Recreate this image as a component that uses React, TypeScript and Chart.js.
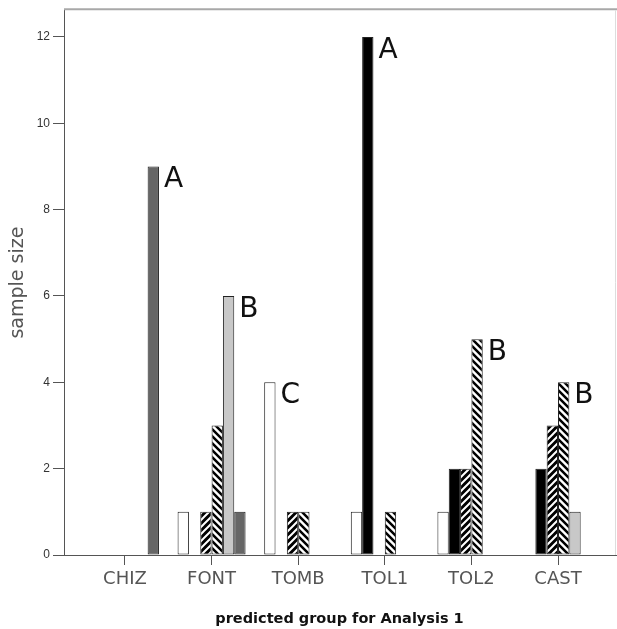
import React, { useEffect, useRef } from 'react';
import { Chart, registerables } from 'chart.js';

Chart.register(...registerables);

const categories = ['CHIZ', 'FONT', 'TOMB', 'TOL1', 'TOL2', 'CAST'];
const seriesWhite = [0, 1, 4, 1, 1, 0];
const seriesBlack = [0, 0, 0, 12, 2, 2];
const seriesForward = [0, 1, 1, 0, 2, 3];
const seriesBack = [0, 3, 1, 1, 5, 4];
const seriesLight = [0, 6, 0, 0, 0, 1];
const seriesDark = [9, 1, 0, 0, 0, 0];
const yTicks = [0, 2, 4, 6, 8, 10, 12];
const groupLetters = ['A', 'B', 'C', 'A', 'B', 'B'];
const letterSeries = [5, 4, 0, 1, 3, 3];

function makeStripes(dir: 'f' | 'b', bg: string, fg: string, lw: number) {
  const s = 7;
  const c = document.createElement('canvas');
  c.width = s;
  c.height = s;
  const g = c.getContext('2d')!;
  g.fillStyle = bg;
  g.fillRect(0, 0, s, s);
  g.strokeStyle = fg;
  g.lineWidth = lw;
  g.beginPath();
  if (dir === 'f') {
    g.moveTo(0, s); g.lineTo(s, 0);
    g.moveTo(-s / 2, s / 2); g.lineTo(s / 2, -s / 2);
    g.moveTo(s / 2, s * 1.5); g.lineTo(s * 1.5, s / 2);
  } else {
    g.moveTo(0, 0); g.lineTo(s, s);
    g.moveTo(-s / 2, s / 2); g.lineTo(s / 2, s * 1.5);
    g.moveTo(s / 2, -s / 2); g.lineTo(s * 1.5, s / 2);
  }
  g.stroke();
  return g.createPattern(c, 'repeat')!;
}

const toPts = (arr: number[]) => arr.map((v, i) => ({ x: i, y: v }));

export default function App() {
  const ref = useRef<HTMLCanvasElement>(null);
  useEffect(() => {
    document.body.style.margin = '0';
    document.body.style.overflow = 'hidden';
    const canvas = ref.current!;
    const fwd = makeStripes('f', '#000', '#fff', 2);
    const bwd = makeStripes('b', '#fff', '#000', 2.5);

    const letterPlugin = {
      id: 'letters',
      afterDatasetsDraw(chart: any) {
        const ctx = chart.ctx;
        ctx.save();
        ctx.font = '28px "DejaVu Sans"';
        ctx.fillStyle = '#111';
        ctx.textAlign = 'left';
        ctx.textBaseline = 'alphabetic';
        groupLetters.forEach((L, i) => {
          const el: any = chart.getDatasetMeta(letterSeries[i]).data[i];
          const x = el.x + el.width / 2 + 5;
          ctx.fillText(L, x, el.y + 21);
        });
        ctx.restore();
      },
    };
    const framePlugin = {
      id: 'frame',
      afterDraw(chart: any) {
        const { ctx, chartArea } = chart;
        ctx.save();
        ctx.strokeStyle = '#a8a8a8';
        ctx.lineWidth = 2;
        ctx.beginPath();
        ctx.moveTo(chartArea.left, chartArea.top - 1);
        ctx.lineTo(chartArea.right + 2, chartArea.top - 1);
        ctx.stroke();
        ctx.strokeStyle = '#dddddd';
        ctx.lineWidth = 1;
        ctx.beginPath();
        ctx.moveTo(chartArea.right + 0.5, chartArea.top);
        ctx.lineTo(chartArea.right + 0.5, chartArea.bottom);
        ctx.stroke();
        ctx.strokeStyle = '#555';
        ctx.beginPath();
        ctx.moveTo(chartArea.right, chartArea.bottom + 0.5);
        ctx.lineTo(chartArea.right + 2, chartArea.bottom + 0.5);
        ctx.stroke();
        ctx.restore();
      },
    };

    const common = { borderWidth: 1, borderColor: '#222', borderSkipped: false as any };
    const chart = new Chart(canvas, {
      type: 'bar',
      data: {
        datasets: [
          { label: 'white', data: toPts(seriesWhite), backgroundColor: '#ffffff', ...common },
          { label: 'black', data: toPts(seriesBlack), backgroundColor: '#000000', ...common },
          { label: 'forward', data: toPts(seriesForward), backgroundColor: fwd as any, ...common },
          { label: 'back', data: toPts(seriesBack), backgroundColor: bwd as any, ...common },
          { label: 'light', data: toPts(seriesLight), backgroundColor: '#c8c8c8', ...common },
          { label: 'dark', data: toPts(seriesDark), backgroundColor: '#666666', ...common },
        ] as any,
      },
      options: {
        responsive: false,
        animation: false,
        devicePixelRatio: 1,
        layout: { padding: { left: 0, top: 9, right: 2, bottom: 0 } },
        datasets: { bar: { categoryPercentage: 0.785, barPercentage: 1 } } as any,
        plugins: { legend: { display: false }, tooltip: { enabled: false } },
        scales: {
          x: {
            type: 'linear',
            min: -0.704,
            max: 5.658,
            offset: false,
            grid: { display: true, drawOnChartArea: false, drawTicks: true, tickLength: 10, color: '#555', offset: false },
            border: { display: true, color: '#555', width: 1 },
            ticks: {
              font: { family: 'DejaVu Sans', size: 18 },
              color: '#555',
              padding: 4,
              autoSkip: false,
              maxRotation: 0,
              callback: (v: any) => categories[v as number] ?? '',
            },
            afterBuildTicks: (s: any) => {
              s.ticks = categories.map((_, i) => ({ value: i }));
            },
            afterFit: (s: any) => { s.height = 74; },
            title: {
              display: true,
              text: 'predicted group for Analysis 1',
              font: { family: 'DejaVu Sans', size: 14.5, weight: 'bold' },
              color: '#111',
              padding: { top: 0, bottom: 1 },
            },
          } as any,
          y: {
            min: 0,
            max: 12.62,
            grid: { display: true, drawOnChartArea: false, drawTicks: true, tickLength: 11, color: '#555' },
            border: { display: true, color: '#555', width: 1 },
            ticks: { font: { family: 'Liberation Sans', size: 12 }, color: '#333', padding: 3 },
            afterBuildTicks: (s: any) => {
              s.ticks = yTicks.map((v) => ({ value: v }));
            },
            afterFit: (s: any) => { s.width = 64; },
            title: {
              display: true,
              text: 'sample size',
              font: { family: 'DejaVu Sans', size: 19 },
              color: '#555',
              padding: { top: 7, bottom: 0 },
            },
          } as any,
        },
      },
      plugins: [letterPlugin, framePlugin],
    });
    return () => chart.destroy();
  }, []);
  return (
    <div style={{ width: 617, height: 629, overflow: 'hidden' }}>
      <canvas ref={ref} width={617} height={629} style={{ display: 'block' }} />
    </div>
  );
}
